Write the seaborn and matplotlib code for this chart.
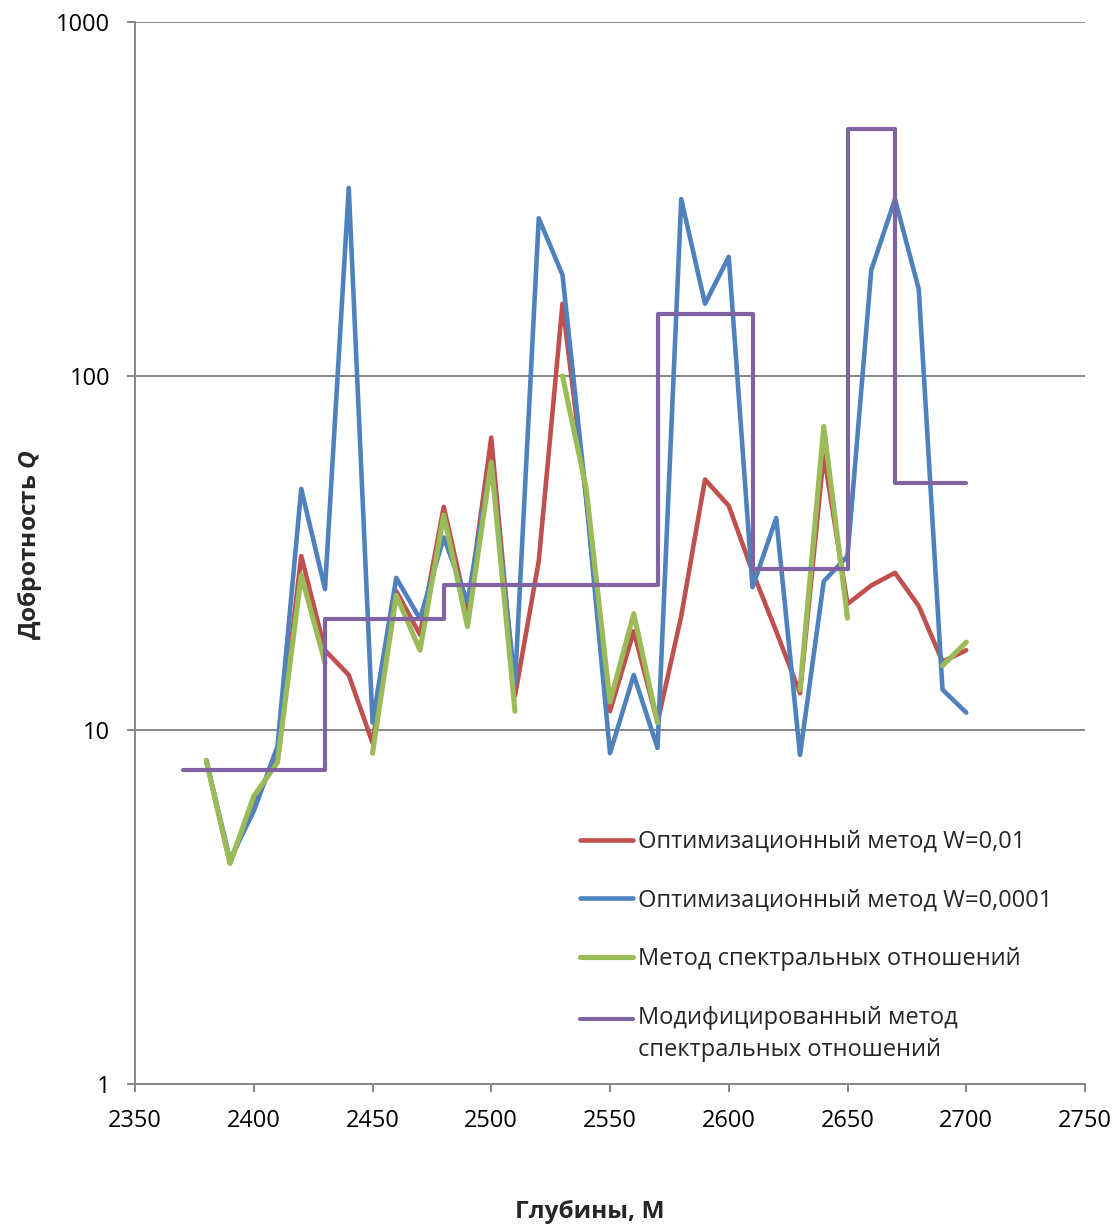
import numpy as np
import pandas as pd
import matplotlib
matplotlib.use("Agg")
import matplotlib.pyplot as plt
import seaborn as sns
from matplotlib.ticker import FixedLocator, NullLocator, FixedFormatter
from matplotlib.legend_handler import HandlerLine2D

# Depth samples, m
depth = [2380, 2390, 2400, 2410, 2420, 2430, 2440, 2450, 2460, 2470, 2480,
         2490, 2500, 2510, 2520, 2530, 2540, 2550, 2560, 2570, 2580, 2590,
         2600, 2610, 2620, 2630, 2640, 2650, 2660, 2670, 2680, 2690, 2700]

# Quality factor Q, optimisation method, W = 0.01
q_opt_w001 = [8.2, 4.2, 6.3, 8.3, 31, 16.8, 14.3, 9.2, 24.7, 18.6, 42.7,
              21.5, 67, 12.5, 30, 160, 45, 11.3, 19, 10.5, 21, 51,
              43, 28, 19, 12.7, 60, 22.7, 25.6, 27.8, 22.4, 15.6, 16.8]

# Quality factor Q, optimisation method, W = 0.0001
q_opt_w00001 = [8.2, 4.3, 5.9, 9.0, 48, 25, 340, 10.5, 26.9, 20.6, 35,
                23, 57, 13.5, 279, 193, 45, 8.6, 14.3, 8.9, 316, 160,
                217, 25.3, 39.7, 8.5, 26.3, 31, 199, 316, 176, 13.0, 11.2]

# Quality factor Q, spectral ratio method (no estimate where NaN)
q_spectral = [8.2, 4.2, 6.5, 8.1, 27.4, 15.5, np.nan, 8.6, 24.0, 16.8, 40.5,
              19.6, 57, 11.3, np.nan, 100, 48, 12, 21.3, 10.5, np.nan, np.nan,
              np.nan, np.nan, np.nan, 13, 72, 20.7, np.nan, np.nan, np.nan, 15.2, 17.7]

# Modified spectral ratio method: interval tops and Q per interval
step_depth = [2370, 2430, 2480, 2570, 2610, 2650, 2670, 2700]
q_modified = [7.7, 20.6, 25.7, 150, 28.5, 500, 50, 50]

labels = ["Оптимизационный метод W=0,01",
          "Оптимизационный метод W=0,0001",
          "Метод спектральных отношений",
          "Модифицированный метод\nспектральных отношений"]
colors = ["#C0504D", "#4F81BD", "#9BBB59", "#8064A2"]
widths = [3.3, 3.3, 3.7, 3.0]

x_ticks = [2350, 2400, 2450, 2500, 2550, 2600, 2650, 2700, 2750]
y_ticks = [1, 10, 100, 1000]
y_tick_labels = ["1", "10", "100", "1000"]

sns.set_theme(style="white")
plt.rcParams["font.family"] = ["Open Sans", "DejaVu Sans"]
plt.rcParams["mathtext.fontset"] = "custom"
plt.rcParams["mathtext.it"] = "Open Sans:italic:bold"
plt.rcParams["mathtext.rm"] = "Open Sans:bold"

W, H, DPI = 1117, 1227, 100
fig = plt.figure(figsize=(W / DPI, H / DPI), dpi=DPI)
ax = fig.add_axes([135 / W, 1 - 1084 / H, (1085 - 135) / W, (1084 - 22) / H])
ax.set_yscale("log")


def line_kw(i):
    return dict(color=colors[i], linewidth=widths[i], solid_capstyle="round",
                solid_joinstyle="round", zorder=3 + i)


# Break the spectral-ratio series into continuous runs so gaps stay open
spec = pd.DataFrame({"depth": depth, "Q": q_spectral})
spec["run"] = spec["Q"].isna().cumsum()
spec = spec.dropna()

sns.lineplot(x=depth, y=q_opt_w001, ax=ax, **line_kw(0))
sns.lineplot(x=depth, y=q_opt_w00001, ax=ax, **line_kw(1))
sns.lineplot(data=spec, x="depth", y="Q", units="run", estimator=None,
             ax=ax, **line_kw(2))
sns.lineplot(x=step_depth, y=q_modified, ax=ax, drawstyle="steps-post",
             **line_kw(3))

ax.set_xlim(2350, 2750)
ax.set_ylim(1, 1000)
ax.xaxis.set_major_locator(FixedLocator(x_ticks))
ax.yaxis.set_major_locator(FixedLocator(y_ticks))
ax.yaxis.set_major_formatter(FixedFormatter(y_tick_labels))
ax.yaxis.set_minor_locator(NullLocator())

grid_c = "#868686"
ax.grid(axis="y", color=grid_c, linewidth=1.4)
ax.grid(axis="x", visible=False)
for side in ("top", "right"):
    ax.spines[side].set_visible(False)
for side in ("left", "bottom"):
    ax.spines[side].set_color(grid_c)
    ax.spines[side].set_linewidth(1.4)
ax.tick_params(axis="both", which="major", direction="out", length=6,
               width=1.4, color=grid_c, labelsize=17, pad=12, labelcolor="black",
               left=True, bottom=True)
ax.set_xlabel("")
ax.set_ylabel("")

fig.text(590 / W, 1 - 1212 / H, "Глубины, М", ha="center", va="center",
         fontsize=17.6, fontweight="bold")
fig.text(30 / W, 1 - 545 / H, "Добротность $\\mathit{Q}$", ha="center",
         va="center", rotation=90, fontsize=17.6, fontweight="bold")


class FirstLineHandler(HandlerLine2D):
    """Legend line aligned with the first row of a two-row label."""

    def create_artists(self, legend, orig_handle, xdescent, ydescent,
                       width, height, fontsize, trans):
        lift = 0.68 * fontsize
        return super().create_artists(legend, orig_handle, xdescent,
                                      ydescent - 2 * lift, width, height,
                                      fontsize, trans)


handles = [plt.Line2D([], [], color=colors[i], linewidth=widths[i],
                      solid_capstyle="round") for i in range(4)]
leg = ax.legend(handles, labels, loc="upper left", frameon=False, fontsize=17,
                bbox_to_anchor=(580 / W, 1 - 830 / H),
                bbox_transform=fig.transFigure,
                borderpad=0, borderaxespad=0, handlelength=2.25,
                handletextpad=0.2, labelspacing=1.47,
                handler_map={handles[3]: FirstLineHandler()})
leg.get_texts()[3].set_linespacing(1.45)

fig.savefig("out.png", dpi=DPI)
